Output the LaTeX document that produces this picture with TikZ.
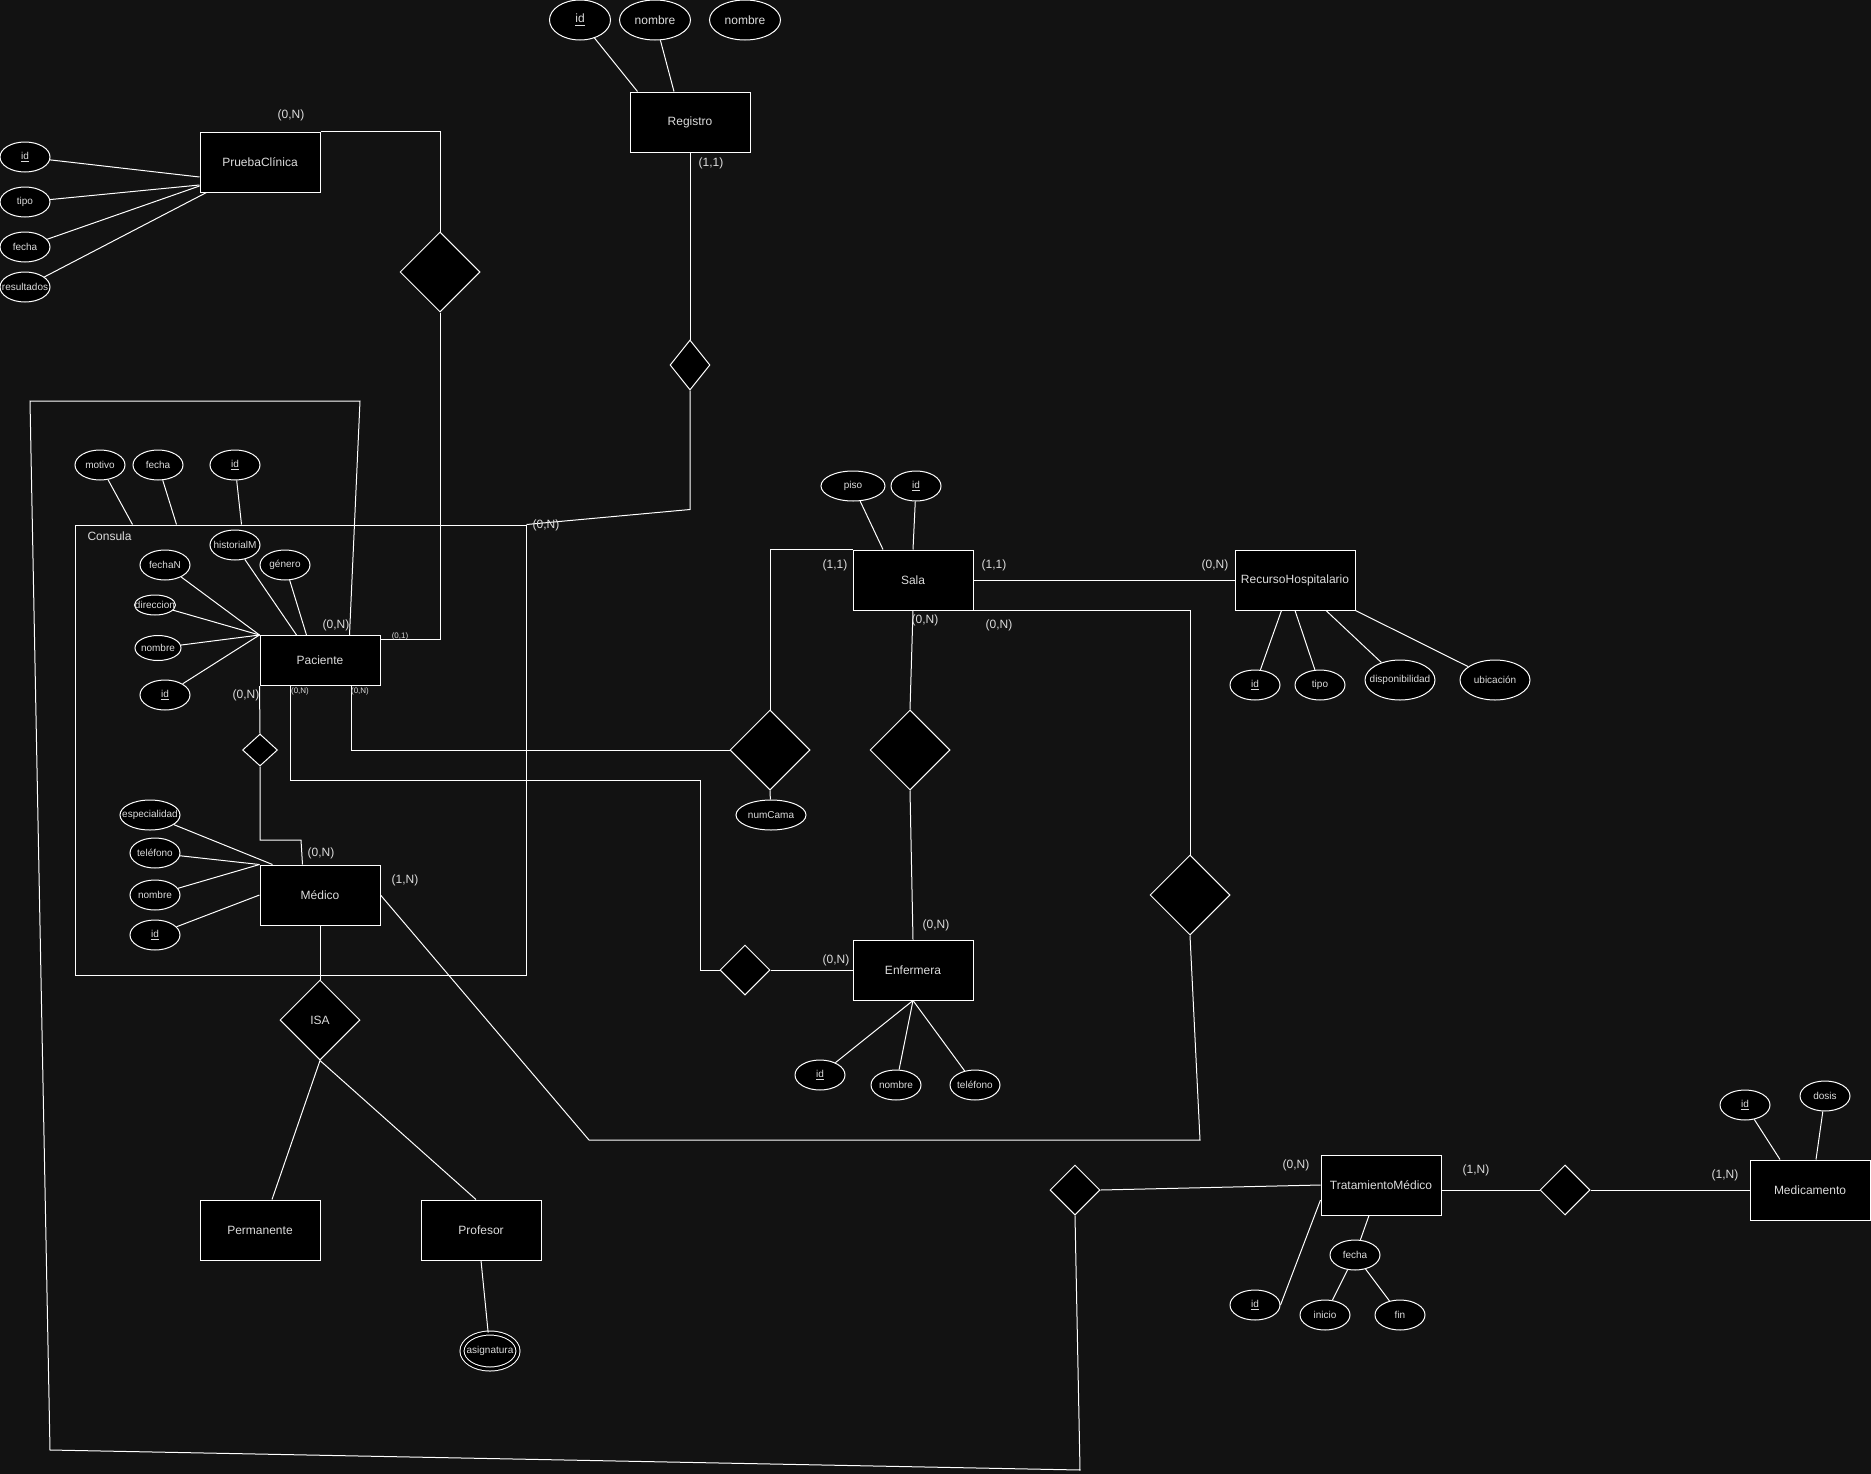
\documentclass[tikz,border=0pt]{standalone}
\usepackage{fontspec}
\setmainfont{Liberation Sans}
\usepackage{tikz}
\usetikzlibrary{shapes,calc,positioning}
\definecolor{bgdark}{RGB}{18,18,18}
\definecolor{txtgray}{RGB}{220,220,220}
\newcommand{\nm}[1]{\makebox[0pt]{#1}}

\begin{document}
\begin{tikzpicture}[x=0.75pt,y=-0.75pt,line width=0.75pt,color=white,
  ent/.style={rectangle,draw=white,fill=black,inner sep=0pt,minimum width=90pt,minimum height=45pt,text=txtgray,font=\fontsize{9}{11}\selectfont},
  rel/.style={diamond,draw=white,fill=black,inner sep=0pt,minimum width=60pt,minimum height=60pt,text=txtgray,font=\fontsize{9}{11}\selectfont},
  attr/.style={ellipse,draw=white,fill=black,inner sep=0pt,minimum width=37.5pt,minimum height=22.5pt,text=txtgray,font=\fontsize{7.5}{9}\selectfont},
  big/.style={font=\fontsize{9}{11}\selectfont},
  px/.style 2 args={minimum width=#1*0.75pt,minimum height=#2*0.75pt},
  card/.style={text=txtgray,inner sep=0pt,font=\fontsize{9}{11}\selectfont},
  cardsm/.style={text=txtgray,inner sep=0pt,font=\fontsize{6}{7}\selectfont}]
          % background
          \fill[bgdark] (0,0) rectangle (1871,1474);
          \useasboundingbox (0,0) rectangle (1871,1474);
          % Consula container
          \node[draw=white,px={451}{450}] (cons) at (300.5,750) {};
          \node[anchor=west,card] (consLbl) at (87,536) {Consula};
          % entities
          \node[ent] (reg) at (690,122) {Registro};
          \node[ent] (pc) at (260,162) {PruebaClínica};
          \node[ent,px={120}{50}] (pac) at (320,660.5) {Paciente};
          \node[ent] (med) at (320,895) {Médico};
          \node[ent] (sala) at (913,580) {Sala};
          \node[ent] (rh) at (1295,580) {RecursoHospitalario};
          \node[ent] (enf) at (913,970) {Enfermera};
          \node[ent] (tm) at (1381,1185) {TratamientoMédico};
          \node[ent] (medi) at (1810,1190) {Medicamento};
          \node[ent] (perm) at (260,1230) {Permanente};
          \node[ent] (prof) at (481,1230) {Profesor};
          % relationships
          \node[rel,px={40}{50}] (rdia) at (690,365) {};
          \node[rel] (pdia) at (440,272) {};
          \node[rel] (bdia) at (770,750) {};
          \node[rel] (edia) at (910,750) {};
          \node[rel] (cdia) at (1190,895) {};
          \node[rel,px={50}{50}] (ndia) at (745,970) {};
          \node[rel,px={35}{32}] (sdia) at (260,750) {};
          \node[rel] (isa) at (320,1020) {ISA};
          \node[rel,px={50}{50}] (tdia) at (1075,1190) {};
          \node[rel,px={50}{50}] (mdia) at (1565,1190) {};
          % attributes Registro
          \node[attr,big,px={61}{40}] (rid) at (580,20) {\nm{\underline{id}}};
          \node[attr,big,px={71}{40}] (rnom) at (655,20) {\nm{nombre}};
          \node[attr,big,px={71}{40}] (rnomB) at (745,20) {\nm{nombre}};
          % attributes PruebaClinica
          \node[attr] (pid) at (25,157) {\nm{\underline{id}}};
          \node[attr] (ptipo) at (25,202) {\nm{tipo}};
          \node[attr] (pfec) at (25,247) {\nm{fecha}};
          \node[attr] (pres) at (25,287) {\nm{resultados}};
          % attributes Consula
          \node[attr] (cmot) at (100,465) {\nm{motivo}};
          \node[attr] (cfec) at (158,465) {\nm{fecha}};
          \node[attr] (cid) at (235,465) {\nm{\underline{id}}};
          % attributes Paciente
          \node[attr] (ahis) at (235,545) {\nm{historialM}};
          \node[attr] (afn) at (165,565) {\nm{fechaN}};
          \node[attr] (agen) at (285,565) {\nm{género}};
          \node[attr,px={41}{20}] (adir) at (155,605) {\nm{direccion}};
          \node[attr,px={46}{25}] (anom) at (158,648) {\nm{nombre}};
          \node[attr] (aid) at (165,695) {\nm{\underline{id}}};
          % attributes Medico
          \node[attr,px={60}{30}] (mesp) at (150,815) {\nm{especialidad}};
          \node[attr] (mtel) at (155,853) {\nm{teléfono}};
          \node[attr] (mnom) at (155,895) {\nm{nombre}};
          \node[attr] (mid) at (155,935) {\nm{\underline{id}}};
          \node[attr,px={56}{36},double=black,double distance=2.25pt] (asig) at (490,1351) {\nm{asignatura}};
          % attributes Sala, RecursoHospitalario
          \node[attr,px={64}{30}] (spiso) at (853,486) {\nm{piso}};
          \node[attr] (sid) at (916,486) {\nm{\underline{id}}};
          \node[attr] (hid) at (1255,685) {\nm{\underline{id}}};
          \node[attr] (htipo) at (1320,685) {\nm{tipo}};
          \node[attr,px={70}{40}] (hdisp) at (1400,680) {\nm{disponibilidad}};
          \node[attr,px={70}{40}] (hubi) at (1495,680) {\nm{ubicación}};
          \node[attr,px={70}{30}] (ncama) at (771,815) {\nm{numCama}};
          % attributes Enfermera
          \node[attr] (eid) at (820,1075) {\nm{\underline{id}}};
          \node[attr] (enom) at (896,1085) {\nm{nombre}};
          \node[attr] (etel) at (975,1085) {\nm{teléfono}};
          % attributes TratamientoMedico, Medicamento
          \node[attr] (tfec) at (1355,1255) {\nm{fecha}};
          \node[attr] (tini) at (1325,1315) {\nm{inicio}};
          \node[attr] (tfin) at (1400,1315) {\nm{fin}};
          \node[attr] (tid) at (1255,1305) {\nm{\underline{id}}};
          \node[attr] (mid2) at (1745,1105) {\nm{\underline{id}}};
          \node[attr] (mdos) at (1825,1096) {\nm{dosis}};
          % Registro links
          \draw (rid) -- ($(reg.north west)+(8,0)$);
          \draw (rnom) -- ($(reg.north)+(-16,0)$);
          \draw (reg.south) -- (rdia.north);
          \draw (rdia.south) -- ++(0,119) -- (cons.north east);
          % PruebaClinica links
          \draw (pid) -- ($(pc.west)+(0,15)$);
          \draw (ptipo) -- ($(pc.west)+(0,23)$);
          \draw (pfec) -- ($(pc.west)+(0,24)$);
          \draw (pres) -- ($(pc.south west)+(7,0)$);
          \draw (pc.north east) -| (pdia.north);
          \draw (pdia.south) |- ($(pac.north east)+(0,4)$);
          % outer ring round Consula
          \draw ($(pac.north west)+(90,0)$) -- (360,401) -- (30,401) -- (50,1450) -- (1080,1470) -- (tdia.south);
          \draw (tdia.east) -- (tm.west);
          % TratamientoMedico, Medicamento links
          \draw ($(tm.east)+(0,5)$) -- (mdia.west);
          \draw (mdia.east) -- (medi.west);
          \draw (tfec) -- ($(tm.south)+(-12,0)$);
          \draw (tfec) -- (tini);
          \draw (tfec) -- (tfin);
          \draw (tid.east) -- ($(tm.west)+(0,15)$);
          \draw (mid2) -- ($(medi.north)+(-30,0)$);
          \draw (mdos) -- ($(medi.north)+(6,0)$);
          % Sala links
          \draw (spiso) -- ($(sala.north)+(-30,0)$);
          \draw (sid) -- (sala.north);
          \draw (sala.east) -- (rh.west);
          \draw (hid) -- ($(rh.south west)+(47,0)$);
          \draw (htipo) -- (rh.south);
          \draw (hdisp) -- ($(rh.south)+(31,0)$);
          \draw (hubi) -- (rh.south east);
          \draw (sala.north west) -| (bdia.north);
          \draw (bdia.west) -| ($(pac.south)+(31,0)$);
          \draw (bdia.south) -- (ncama);
          \draw (sala.south) -- (edia.north);
          \draw (edia.south) -- (enf.north);
          \draw (sala.south east) -| (cdia.north);
          \draw (cdia.south) -- (1200,1140) -- (589,1140) -- (med.east);
          % Paciente links
          \draw (ahis) -- ($(pac.north west)+(37,0)$);
          \draw (agen) -- ($(pac.north west)+(47,0)$);
          \draw (afn) -- (pac.north west);
          \draw (adir) -- (pac.north west);
          \draw (anom) -- (pac.north west);
          \draw (aid) -- (pac.north west);
          \draw (pac.south west) -- (sdia.north);
          \draw (sdia.south) |- (301,840) -- ($(med.north west)+(43,0)$);
          \draw ($(pac.south west)+(31,0)$) |- (700,780) |- (ndia.west);
          \draw (ndia.east) -- (enf.west);
          % Consula links
          \draw (cmot) -- ($(cons.north west)+(58,0)$);
          \draw (cfec) -- ($(cons.north west)+(102,0)$);
          \draw (cid) -- ($(cons.north west)+(167,0)$);
          % Medico links
          \draw (mesp) -- ($(med.north west)+(13,0)$);
          \draw (mtel) -- (med.north west);
          \draw (mnom) -- (med.north west);
          \draw (mid) -- (med.west);
          \draw (med.south) -- (isa.north);
          \draw (isa.south) -- ($(perm.north)+(12,0)$);
          \draw (isa.south) -- ($(prof.north)+(-5,0)$);
          \draw (prof.south) -- (asig);
          % Enfermera links
          \draw (enf.south) -- (eid);
          \draw (enf.south) -- (enom);
          \draw (enf.south) -- (etel);
          % cardinalities
          \node[card] (kPC) at (291,115) {(0,N)};
          \node[card] (kReg) at (711,163) {(1,1)};
          \node[card] (kCons) at (546,525) {(0,N)};
          \node[card] (kPacT) at (336,625) {(0,N)};
          \node[cardsm] (kPacR) at (400,636) {(0,1)};
          \node[card] (kPacL) at (246,695) {(0,N)};
          \node[cardsm] (kPacA) at (300,691) {(0,N)};
          \node[cardsm] (kPacB) at (360,691) {(0,N)};
          \node[card] (kMedT) at (321,853) {(0,N)};
          \node[card] (kMedR) at (405,880) {(1,N)};
          \node[card] (kSalaL) at (835,565) {(1,1)};
          \node[card] (kSalaR) at (994,565) {(1,1)};
          \node[card] (kRH) at (1215,565) {(0,N)};
          \node[card] (kSalaB) at (925,620) {(0,N)};
          \node[card] (kSalaC) at (999,625) {(0,N)};
          \node[card] (kEnfT) at (936,925) {(0,N)};
          \node[card] (kEnfL) at (836,960) {(0,N)};
          \node[card] (kTM) at (1296,1165) {(0,N)};
          \node[card] (kTMR) at (1476,1170) {(1,N)};
          \node[card] (kMedi) at (1725,1175) {(1,N)};
        \end{tikzpicture}
\end{document}
